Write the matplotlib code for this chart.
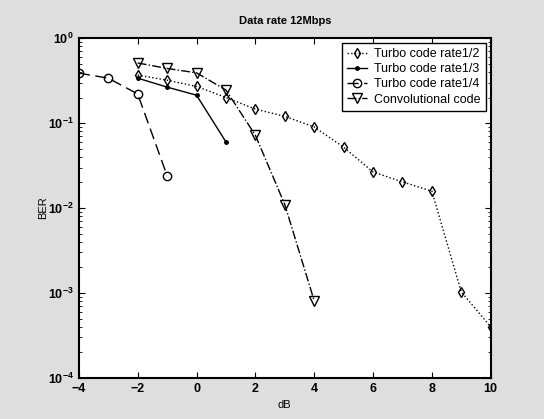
import matplotlib
matplotlib.use("Agg")
import matplotlib.pyplot as plt
from matplotlib.ticker import LogLocator, NullFormatter

plt.rcParams.update({
    "font.family": ["Liberation Sans", "DejaVu Sans"],
    "font.size": 8,
    "xtick.direction": "in", "ytick.direction": "in",
})

# Eb/N0 in dB and BER
snr_t12 = [-2, -1, 0, 1, 2, 3, 4, 5, 6, 7, 8, 9, 10]
ber_t12 = [0.367, 0.32, 0.27, 0.20, 0.146, 0.12, 0.09, 0.052, 0.0266, 0.0203, 0.0158, 0.00103, 0.0004]

snr_t13 = [-2, -1, 0, 1]
ber_t13 = [0.338, 0.265, 0.213, 0.06]

snr_t14 = [-4, -3, -2, -1]
ber_t14 = [0.387, 0.338, 0.22, 0.024]

snr_conv = [-2, -1, 0, 1, 2, 3, 4]
ber_conv = [0.51, 0.44, 0.39, 0.245, 0.072, 0.011, 0.00081]

fig = plt.figure(figsize=(5.44, 4.19), dpi=100)
fig.patch.set_facecolor("#dedede")
ax = fig.add_axes([0.145, 0.098, 0.757, 0.811])
ax.set_facecolor("white")

mk = dict(color="k", mfc="none", mec="k", lw=1.0, mew=1.0)
ax.semilogy(snr_t12, ber_t12, ls=":", marker="d", ms=5.5, label="Turbo code rate1/2", **mk)
ax.semilogy(snr_t13, ber_t13, ls="-", marker=".", ms=5, label="Turbo code rate1/3",
            color="k", mfc="k", mec="k", lw=1.0)
ax.semilogy(snr_t14, ber_t14, ls=(0, (8, 4)), marker="o", ms=6, label="Turbo code rate1/4", **mk)
ax.semilogy(snr_conv, ber_conv, ls="-.", marker="v", ms=6.5, label="Convolutional code", **mk)

ax.set_xlim(-4, 10)
ax.set_ylim(1e-4, 1)
ax.set_xticks(range(-4, 11, 2))
ax.yaxis.set_minor_locator(LogLocator(base=10, subs=range(2, 10)))
ax.yaxis.set_minor_formatter(NullFormatter())
ax.tick_params(which="both", top=True, right=True, labelsize=9)
ax.tick_params(which="major", length=4)
for lab in ax.get_xticklabels() + ax.get_yticklabels():
    lab.set_fontweight("bold")
for sp in ax.spines.values():
    sp.set_linewidth(1.5)

ax.set_xlabel("dB", fontsize=8, labelpad=4)
ax.set_ylabel("BER", fontsize=8, labelpad=0)
ax.set_title("Data rate 12Mbps", fontsize=8, fontweight="bold", pad=10)

leg = ax.legend(loc="upper right", fontsize=9, fancybox=False, edgecolor="k",
                framealpha=1, handlelength=1.6, borderaxespad=0.4,
                labelspacing=0.25, handletextpad=0.6)
leg.get_frame().set_linewidth(1.0)

fig.savefig("out.png", dpi=100, facecolor=fig.get_facecolor())
